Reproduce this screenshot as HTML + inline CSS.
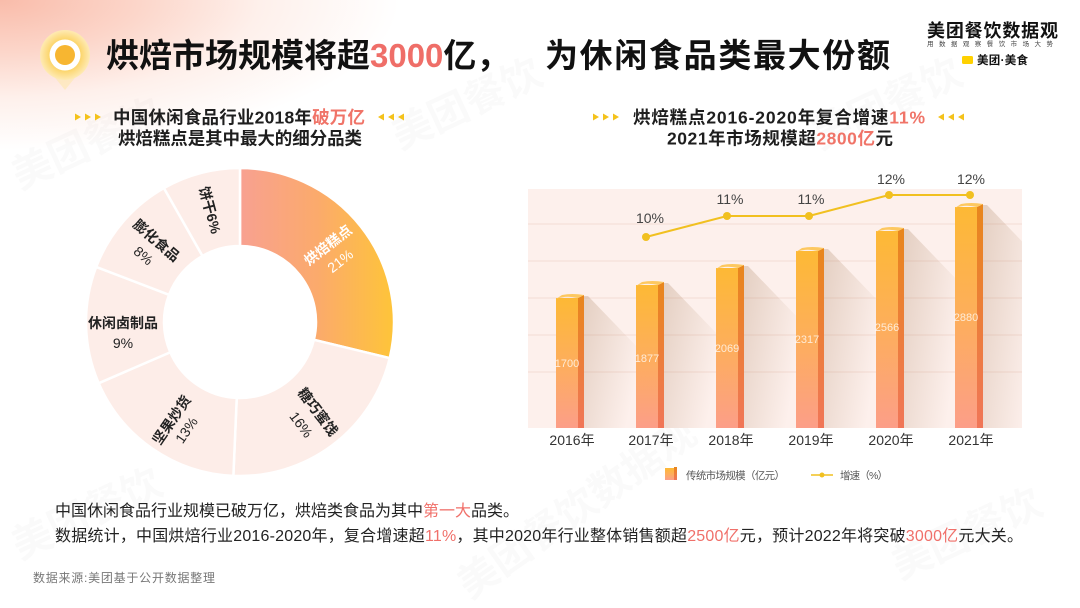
<!DOCTYPE html>
<html><head><meta charset="utf-8">
<style>
html,body{margin:0;padding:0;background:#fff;}
body{width:1080px;height:608px;overflow:hidden;position:relative;}
.bg{position:absolute;left:0;top:0;width:1080px;height:608px;
background:radial-gradient(ellipse 400px 150px at 0px 0px, #f9bcaa 0%, #fcd6ca 35%, #fef0eb 65%, rgba(255,255,255,0) 100%);}
svg{position:absolute;left:0;top:0;}
text{font-family:"Liberation Sans","Noto Sans CJK SC",sans-serif;}
</style></head>
<body>
<div class="bg"></div>
<svg width="1080" height="608" viewBox="0 0 1080 608" xmlns="http://www.w3.org/2000/svg">
<defs>
  <linearGradient id="og" gradientUnits="userSpaceOnUse" x1="242" y1="0" x2="392" y2="0">
    <stop offset="0" stop-color="#f8a190"/>
    <stop offset="0.5" stop-color="#fbaa6c"/>
    <stop offset="1" stop-color="#fec43a"/>
  </linearGradient>
  <linearGradient id="bf" x1="0" y1="0" x2="0" y2="1">
    <stop offset="0" stop-color="#fdb935"/>
    <stop offset="0.5" stop-color="#fdae5c"/>
    <stop offset="1" stop-color="#fc9e88"/>
  </linearGradient>
  <linearGradient id="bs" x1="0" y1="0" x2="0" y2="1">
    <stop offset="0" stop-color="#e8861c"/>
    <stop offset="1" stop-color="#f07658"/>
  </linearGradient>
  <linearGradient id="sh" x1="0" y1="0" x2="1" y2="0.5">
    <stop offset="0" stop-color="#b08a6a" stop-opacity="0.32"/>
    <stop offset="1" stop-color="#b08a6a" stop-opacity="0"/>
  </linearGradient>
  <radialGradient id="pin" cx="0.5" cy="0.5" r="0.5">
    <stop offset="0.6" stop-color="#fcd467"/>
    <stop offset="1" stop-color="#feeab4"/>
  </radialGradient>
  <clipPath id="panel"><rect x="528" y="189" width="494" height="239"/></clipPath>
</defs>

<!-- watermarks -->
<g fill="#000" fill-opacity="0.018" font-size="40" font-weight="bold">
  <text transform="translate(20,190) rotate(-25)">美团餐饮</text>
  <text transform="translate(400,150) rotate(-25)">美团餐饮</text>
  <text transform="translate(20,560) rotate(-25)">美团餐饮</text>
  <text transform="translate(470,600) rotate(-35)">美团餐饮数据观</text>
  <text transform="translate(820,150) rotate(-25)">美团餐饮</text>
  <text transform="translate(900,580) rotate(-25)">美团餐饮</text>
</g>

<!-- pin icon -->
<path d="M52,74 L78,74 L65,90 Z" fill="#fde7ae" opacity="0.6"/>
<circle cx="65" cy="55" r="25" fill="url(#pin)"/>
<circle cx="65" cy="55" r="15.5" fill="#fff"/>
<circle cx="65" cy="55" r="10" fill="#f7b631"/>

<!-- main title -->
<g font-size="33" font-weight="bold" fill="#111">
  <text x="106" y="67">烘焙市场规模将超<tspan fill="#ef6e68">3000</tspan>亿，</text>
  <text x="545" y="67" textLength="345">为休闲食品类最大份额</text>
</g>

<!-- logo -->
<text x="927" y="37" font-size="18" font-weight="bold" fill="#111" textLength="131">美团餐饮数据观</text>
<text x="927" y="46" font-size="6.5" fill="#444" textLength="126">用数据观察餐饮市场大势</text>
<rect x="962" y="56" width="11" height="8" rx="1.5" fill="#ffd100"/>
<text x="977" y="64" font-size="11.5" font-weight="bold" fill="#111" textLength="51">美团·美食</text>

<!-- subtitle arrows -->
<g fill="#f4c21b">
  <path d="M75,113.5 L81,117 L75,120.5Z M85,113.5 L91,117 L85,120.5Z M95,113.5 L101,117 L95,120.5Z"/>
  <path d="M384,113.5 L378,117 L384,120.5Z M394,113.5 L388,117 L394,120.5Z M404,113.5 L398,117 L404,120.5Z"/>
  <path d="M593,113.5 L599,117 L593,120.5Z M603,113.5 L609,117 L603,120.5Z M613,113.5 L619,117 L613,120.5Z"/>
  <path d="M944,113.5 L938,117 L944,120.5Z M954,113.5 L948,117 L954,120.5Z M964,113.5 L958,117 L964,120.5Z"/>
</g>
<g font-size="17.5" font-weight="bold" fill="#1e1e1e">
  <text x="113" y="123.5" textLength="252">中国休闲食品行业2018年<tspan fill="#f07468">破万亿</tspan></text>
  <text x="118" y="144.5" textLength="244">烘焙糕点是其中最大的细分品类</text>
  <text x="633" y="123.5" textLength="292">烘焙糕点2016-2020年复合增速<tspan fill="#f07468">11%</tspan></text>
  <text x="667" y="144.5" textLength="226">2021年市场规模超<tspan fill="#f07468">2800亿</tspan>元</text>
</g>

<!-- donut -->
<g stroke="#fff" stroke-width="2.5">
  <path d="M240,168 A154,154 0 0 1 389.70,358.11 L313.88,339.82 A76,76 0 0 0 240,246 Z" fill="url(#og)"/>
  <path d="M389.70,358.11 A154,154 0 0 1 233.36,475.86 L236.73,397.93 A76,76 0 0 0 313.88,339.82 Z" fill="#fdede8"/>
  <path d="M233.36,475.86 A154,154 0 0 1 98.69,383.21 L170.26,352.21 A76,76 0 0 0 236.73,397.93 Z" fill="#fdede8"/>
  <path d="M98.69,383.21 A154,154 0 0 1 96.19,266.91 L169.03,294.81 A76,76 0 0 0 170.26,352.21 Z" fill="#fdede8"/>
  <path d="M96.19,266.91 A154,154 0 0 1 163.95,188.08 L202.47,255.91 A76,76 0 0 0 169.03,294.81 Z" fill="#fdede8"/>
  <path d="M163.95,188.08 A154,154 0 0 1 240,168 L240,246 A76,76 0 0 0 202.47,255.91 Z" fill="#fdede8"/>
</g>
<g font-size="14" font-weight="bold" fill="#222" text-anchor="middle">
  <g transform="translate(334,253) rotate(-38)" fill="#fff">
    <text x="0" y="-5">烘焙糕点</text><text x="0" y="15" font-weight="normal">21%</text>
  </g>
  <g transform="translate(310,418) rotate(53)">
    <text x="0" y="-5">糖巧蜜饯</text><text x="0" y="16" font-weight="normal">16%</text>
  </g>
  <g transform="translate(179,425) rotate(-55.5)">
    <text x="0" y="-4">坚果炒货</text><text x="0" y="14" font-weight="normal">13%</text>
  </g>
  <g transform="translate(123,333)">
    <text x="0" y="-5">休闲卤制品</text><text x="0" y="15" font-weight="normal">9%</text>
  </g>
  <g transform="translate(150,248) rotate(40.7)">
    <text x="0" y="-5">膨化食品</text><text x="0" y="15" font-weight="normal">8%</text>
  </g>
  <g transform="translate(210,210) rotate(75)">
    <text x="0" y="5">饼干6%</text>
  </g>
</g>

<!-- bar chart panel -->
<rect x="528" y="189" width="494" height="239" fill="#fdf0ec"/>
<g stroke="#f4dbd3" stroke-width="1">
  <line x1="528" y1="224" x2="1022" y2="224"/>
  <line x1="528" y1="261" x2="1022" y2="261"/>
  <line x1="528" y1="298" x2="1022" y2="298"/>
  <line x1="528" y1="335" x2="1022" y2="335"/>
  <line x1="528" y1="372" x2="1022" y2="372"/>
</g>
<g clip-path="url(#panel)">
  <polygon points="584,296 588,296 640,350 640,428 584,428" fill="url(#sh)"/>
  <polygon points="664,283 668,283 720,337 720,428 664,428" fill="url(#sh)"/>
  <polygon points="744,266 748,266 800,320 800,428 744,428" fill="url(#sh)"/>
  <polygon points="824,249 828,249 880,303 880,428 824,428" fill="url(#sh)"/>
  <polygon points="904,229 908,229 960,283 960,428 904,428" fill="url(#sh)"/>
  <polygon points="983,205 987,205 1039,259 1039,428 983,428" fill="url(#sh)"/>
</g>
<g>
  <rect x="556" y="298" width="22" height="130" fill="url(#bf)"/>
  <polygon points="578,298 584,295 584,428 578,428" fill="url(#bs)"/>
  <path d="M556,299 Q566,295 578,298 L584,295 Q572,293 562,295 Z" fill="#fdc860"/>
  <rect x="636" y="285" width="22" height="143" fill="url(#bf)"/>
  <polygon points="658,285 664,282 664,428 658,428" fill="url(#bs)"/>
  <path d="M636,286 Q646,282 658,285 L664,282 Q652,280 642,282 Z" fill="#fdc860"/>
  <rect x="716" y="268" width="22" height="160" fill="url(#bf)"/>
  <polygon points="738,268 744,265 744,428 738,428" fill="url(#bs)"/>
  <path d="M716,269 Q726,265 738,268 L744,265 Q732,263 722,265 Z" fill="#fdc860"/>
  <rect x="796" y="251" width="22" height="177" fill="url(#bf)"/>
  <polygon points="818,251 824,248 824,428 818,428" fill="url(#bs)"/>
  <path d="M796,252 Q806,248 818,251 L824,248 Q812,246 802,248 Z" fill="#fdc860"/>
  <rect x="876" y="231" width="22" height="197" fill="url(#bf)"/>
  <polygon points="898,231 904,228 904,428 898,428" fill="url(#bs)"/>
  <path d="M876,232 Q886,228 898,231 L904,228 Q892,226 882,228 Z" fill="#fdc860"/>
  <rect x="955" y="207" width="22" height="221" fill="url(#bf)"/>
  <polygon points="977,207 983,204 983,428 977,428" fill="url(#bs)"/>
  <path d="M955,208 Q965,204 977,207 L983,204 Q971,202 961,204 Z" fill="#fdc860"/>
</g>
<g font-size="11" fill="#fff" fill-opacity="0.75" text-anchor="middle">
  <text x="567" y="367">1700</text>
  <text x="647" y="362">1877</text>
  <text x="727" y="352">2069</text>
  <text x="807" y="343">2317</text>
  <text x="887" y="331">2566</text>
  <text x="966" y="321">2880</text>
</g>
<polyline points="646,237 727,216 809,216 889,195 970,195" fill="none" stroke="#f1c020" stroke-width="2"/>
<g fill="#f1c020">
  <circle cx="646" cy="237" r="4"/>
  <circle cx="727" cy="216" r="4"/>
  <circle cx="809" cy="216" r="4"/>
  <circle cx="889" cy="195" r="4"/>
  <circle cx="970" cy="195" r="4"/>
</g>
<g font-size="14" fill="#444" text-anchor="middle">
  <text x="650" y="223">10%</text>
  <text x="730" y="204">11%</text>
  <text x="811" y="204">11%</text>
  <text x="891" y="184">12%</text>
  <text x="971" y="184">12%</text>
</g>
<g font-size="14" fill="#333" text-anchor="middle">
  <text x="572" y="445">2016年</text>
  <text x="651" y="445">2017年</text>
  <text x="731" y="445">2018年</text>
  <text x="811" y="445">2019年</text>
  <text x="891" y="445">2020年</text>
  <text x="971" y="445">2021年</text>
</g>

<!-- legend -->
<rect x="665" y="468" width="9" height="12" fill="url(#bf)"/>
<rect x="674" y="467" width="3" height="13" fill="url(#bs)"/>
<text x="686" y="479" font-size="10.5" fill="#555" textLength="99">传统市场规模（亿元）</text>
<line x1="811" y1="475" x2="833" y2="475" stroke="#f1c020" stroke-width="1.5"/>
<circle cx="822" cy="475" r="2.5" fill="#f1c020"/>
<text x="840" y="479" font-size="10.5" fill="#555" textLength="48">增速（%）</text>

<!-- bottom text -->
<g font-size="16" fill="#222">
  <text x="55" y="516" textLength="464">中国休闲食品行业规模已破万亿，烘焙类食品为其中<tspan fill="#f0706a">第一大</tspan>品类。</text>
  <text x="55" y="541" textLength="968">数据统计，中国烘焙行业2016-2020年，复合增速超<tspan fill="#f0706a">11%</tspan>，其中2020年行业整体销售额超<tspan fill="#f0706a">2500亿</tspan>元，预计2022年将突破<tspan fill="#f0706a">3000亿</tspan>元大关。</text>
</g>
<text x="33" y="582" font-size="12" fill="#777" textLength="182">数据来源:美团基于公开数据整理</text>
</svg>
</body></html>
